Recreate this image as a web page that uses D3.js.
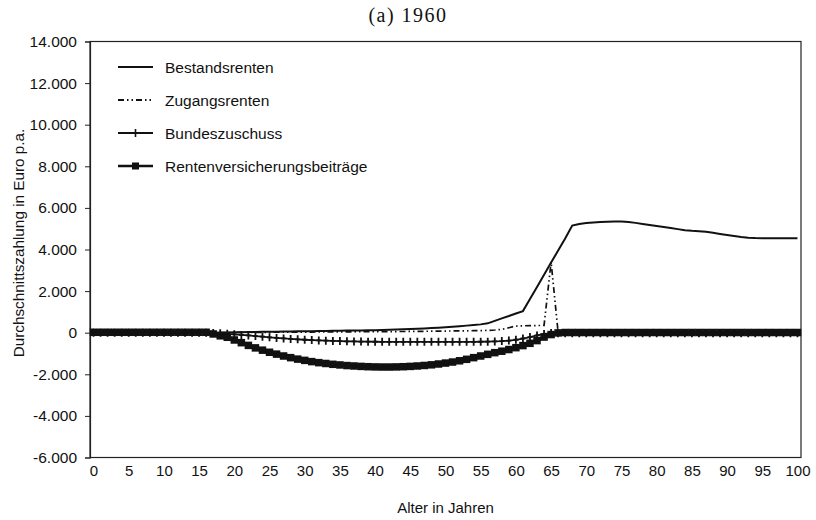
<!DOCTYPE html>
<html>
<head>
<meta charset="utf-8">
<script src="https://cdn.jsdelivr.net/npm/d3@7"></script>
<style>
	body { margin: 0; background: #fff; }
	#vizHolder { width: 816px; height: 520px; }
	text { font-family: "Liberation Sans", Arial, sans-serif; fill: #111; }
	.title { font-family: "Liberation Serif", "DejaVu Serif", serif; }
</style>
</head>
<body>
<div id="vizHolder"></div>
<script>
// Alter 0..100
var ages = d3.range(0, 101);

var bestandsrenten = [
	0, 0, 0, 0, 0, 0, 0, 0, 0, 0,
	0, 0, 0, 0, 0, 0, 0, 0, 10, 15,
	20, 25, 30, 35, 40, 45, 50, 55, 60, 65,
	70, 75, 80, 85, 90, 95, 100, 105, 110, 115,
	120, 130, 140, 150, 160, 175, 190, 205, 220, 240,
	260, 285, 310, 340, 370, 400, 450, 570, 690, 800,
	920, 1040, 1620, 2200, 2790, 3370, 3950, 4530, 5150, 5230,
	5270, 5300, 5320, 5340, 5350, 5350, 5320, 5280, 5230, 5180,
	5130, 5080, 5030, 4980, 4930, 4900, 4880, 4850, 4800, 4750,
	4700, 4650, 4600, 4570, 4550, 4540, 4540, 4540, 4540, 4540,
	4540
];

var zugangsrenten = [
	0, 0, 0, 0, 0, 0, 0, 0, 0, 0,
	0, 0, 0, 0, 0, 0, 0, 0, 0, 0,
	10, 12, 14, 16, 18, 20, 22, 24, 26, 28,
	30, 32, 34, 36, 38, 40, 42, 44, 46, 48,
	50, 52, 54, 56, 58, 60, 64, 68, 72, 76,
	80, 84, 88, 92, 96, 100, 110, 130, 160, 240,
	320, 330, 340, 345, 350, 3400, 0, 0, 0, 0,
	0, 0, 0, 0, 0, 0, 0, 0, 0, 0,
	0, 0, 0, 0, 0, 0, 0, 0, 0, 0,
	0, 0, 0, 0, 0, 0, 0, 0, 0, 0,
	0
];

var bundeszuschuss = [
	0, 0, 0, 0, 0, 0, 0, 0, 0, 0,
	0, 0, 0, 0, 0, 0, 0, -10, -30, -55,
	-80, -105, -130, -160, -190, -220, -250, -275, -300, -320,
	-340, -355, -370, -385, -395, -405, -415, -420, -425, -430,
	-435, -440, -440, -440, -440, -440, -440, -440, -440, -440,
	-440, -440, -440, -440, -440, -435, -430, -420, -405, -380,
	-340, -280, -210, -130, -60, -20, -30, -30, -30, -30,
	-30, -30, -30, -30, -30, -30, -30, -30, -30, -30,
	-30, -30, -30, -30, -30, -30, -30, -30, -30, -30,
	-30, -30, -30, -30, -30, -30, -30, -30, -30, -30,
	-30
];

var rvBeitraege = [
	20, 20, 20, 20, 20, 20, 20, 20, 20, 20,
	20, 20, 20, 20, 20, 20, 20, -60, -150, -220,
	-350, -480, -610, -730, -840, -940, -1030, -1120, -1200, -1270,
	-1330, -1390, -1440, -1480, -1520, -1550, -1580, -1600, -1620, -1635,
	-1645, -1650, -1650, -1645, -1635, -1620, -1600, -1575, -1545, -1505,
	-1460, -1410, -1350, -1280, -1200, -1120, -1040, -960, -890, -810,
	-720, -620, -510, -380, -210, -90, -10, 10, 10, 10,
	10, 10, 10, 10, 10, 10, 10, 10, 10, 10,
	10, 10, 10, 10, 10, 10, 10, 10, 10, 10,
	10, 10, 10, 10, 10, 10, 10, 10, 10, 10,
	10
];

var seriesNames = ['Bestandsrenten', 'Zugangsrenten', 'Bundeszuschuss', 'Rentenversicherungsbeiträge'];
var yTicks = [14000, 12000, 10000, 8000, 6000, 4000, 2000, 0, -2000, -4000, -6000];
var xTicks = d3.range(0, 101, 5);

var	vizHolder = document.querySelector('#vizHolder'),
		plotLeft = 90,
		plotRight = 801,
		plotTop = 41.5,
		plotBottom = 457.5;

var de = d3.formatLocale({ decimal: ',', thousands: '.', grouping: [3], currency: ['', ' €'], minus: '-' });
var fmt = de.format(',.0f');

var xScale = d3.scalePoint()
	.domain(ages)
	.range([plotLeft, plotRight])
	.padding(0.5);

var yScale = d3.scaleLinear()
	.domain([-6000, 14000])
	.range([plotBottom, plotTop]);

var svg = d3.select(vizHolder)
			.append('svg')
			.attr('width', 816)
			.attr('height', 520);

svg.append('text')
	.attr('class', 'title')
	.attr('x', 408)
	.attr('y', 22)
	.attr('text-anchor', 'middle')
	.style('font-size', '20px')
	.style('letter-spacing', '1.5px')
	.text('(a) 1960');

// frame
svg.append('rect')
	.attr('x', plotLeft)
	.attr('y', plotTop)
	.attr('width', plotRight - plotLeft)
	.attr('height', plotBottom - plotTop)
	.attr('fill', 'none')
	.attr('stroke', '#222')
	.attr('stroke-width', 1.2);

var yAxis = svg.append('g')
	.attr('transform', 'translate(' + plotLeft + ',0)')
	.call(d3.axisLeft(yScale).tickValues(yTicks).tickSize(5).tickPadding(8).tickFormat(fmt));
yAxis.select('.domain').attr('stroke', '#222').attr('stroke-width', 1.2);
yAxis.selectAll('line').attr('stroke', '#222');
yAxis.selectAll('text').style('font-size', '15.5px').attr('fill', '#111');

var xAxis = svg.append('g')
	.attr('transform', 'translate(0,' + plotBottom + ')')
	.call(d3.axisBottom(xScale).tickValues(xTicks).tickSize(0).tickPadding(8));
xAxis.select('.domain').remove();
xAxis.selectAll('text').style('font-size', '15px').attr('fill', '#111');

svg.append('text')
	.attr('x', (plotLeft + plotRight) / 2)
	.attr('y', 513)
	.attr('text-anchor', 'middle')
	.style('font-size', '15px')
	.text('Alter in Jahren');

svg.append('text')
	.attr('transform', 'translate(24,243) rotate(-90)')
	.attr('text-anchor', 'middle')
	.style('font-size', '15.3px')
	.text('Durchschnittszahlung in Euro p.a.');

var line = d3.line()
	.x(function(d, i) { return xScale(ages[i]); })
	.y(function(d) { return yScale(d); });

var viz = svg.append('g').attr('id', 'viz');

// Rentenversicherungsbeiträge: thick line with squares
viz.append('path')
	.datum(rvBeitraege)
	.attr('d', line)
	.attr('fill', 'none')
	.attr('stroke', '#111')
	.attr('stroke-width', 3.5);

viz.selectAll('rect.sq')
	.data(rvBeitraege)
	.enter()
	.append('rect')
	.attr('class', 'sq')
	.attr('x', function(d, i) { return xScale(ages[i]) - 3.75; })
	.attr('y', function(d) { return yScale(d) - 3.75; })
	.attr('width', 7.5)
	.attr('height', 7.5)
	.attr('fill', '#111');

// Bundeszuschuss: thin line with plus markers
viz.append('path')
	.datum(bundeszuschuss)
	.attr('d', line)
	.attr('fill', 'none')
	.attr('stroke', '#111')
	.attr('stroke-width', 1.8);

viz.selectAll('path.plus')
	.data(bundeszuschuss)
	.enter()
	.append('path')
	.attr('class', 'plus')
	.attr('d', function(d, i) {
		var x = xScale(ages[i]), y = yScale(d);
		return 'M' + x + ',' + (y - 4) + 'V' + (y + 4) + 'M' + (x - 2.5) + ',' + y + 'H' + (x + 2.5);
	})
	.attr('stroke', '#111')
	.attr('stroke-width', 1.8);

// Zugangsrenten: dash-dot-dot
viz.append('path')
	.datum(zugangsrenten)
	.attr('d', line)
	.attr('fill', 'none')
	.attr('stroke', '#111')
	.attr('stroke-width', 1.7)
	.attr('stroke-dasharray', '6,3,1.5,3,1.5,3');

// Bestandsrenten: solid
viz.append('path')
	.datum(bestandsrenten)
	.attr('d', line)
	.attr('fill', 'none')
	.attr('stroke', '#111')
	.attr('stroke-width', 2);

// legend
var legendY = [67, 100, 133, 166];
var legend = svg.append('g');

legend.selectAll('line.lg')
	.data(seriesNames)
	.enter()
	.append('line')
	.attr('x1', 118)
	.attr('x2', 153)
	.attr('y1', function(d, i) { return legendY[i]; })
	.attr('y2', function(d, i) { return legendY[i]; })
	.attr('stroke', '#111')
	.attr('stroke-width', function(d, i) { return i == 3 ? 2.5 : 1.8; })
	.attr('stroke-dasharray', function(d, i) { return i == 1 ? '6,3,1.5,3,1.5,3' : null; });

legend.append('path')
	.attr('d', 'M135.5,' + (legendY[2] - 4) + 'V' + (legendY[2] + 4) + 'M133,' + legendY[2] + 'H138')
	.attr('stroke', '#111')
	.attr('stroke-width', 1.6);

legend.append('rect')
	.attr('x', 132)
	.attr('y', legendY[3] - 3.5)
	.attr('width', 7)
	.attr('height', 7)
	.attr('fill', '#111');

legend.selectAll('text')
	.data(seriesNames)
	.enter()
	.append('text')
	.attr('x', 165)
	.attr('y', function(d, i) { return legendY[i] + 5.5; })
	.style('font-size', '15.5px')
	.text(function(d) { return d; });
</script>
</body>
</html>
